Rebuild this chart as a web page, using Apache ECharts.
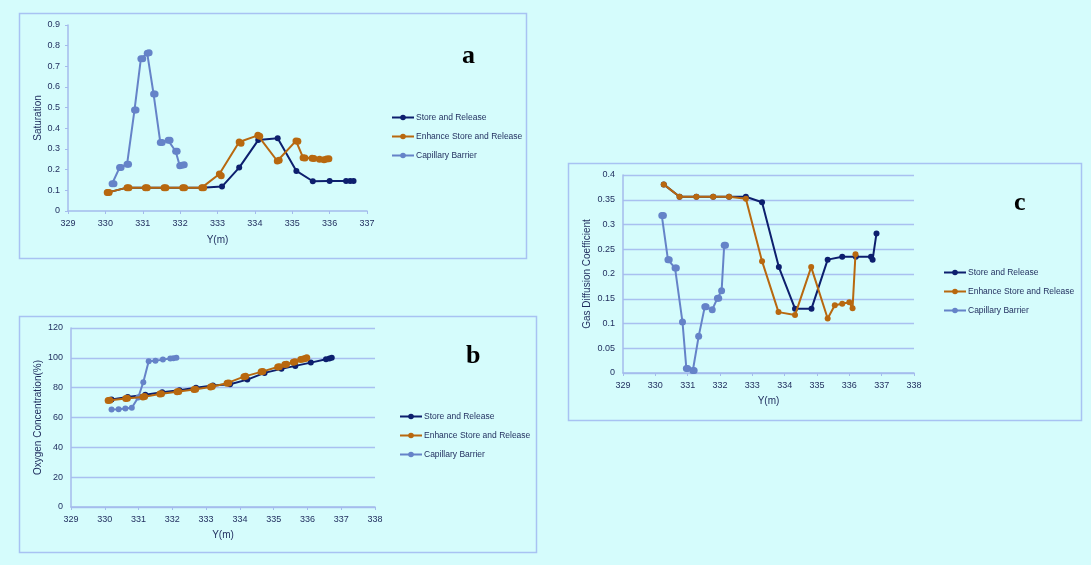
<!DOCTYPE html>
<html>
<head>
<meta charset="utf-8">
<script src="https://cdn.jsdelivr.net/npm/echarts@6/dist/echarts.min.js"></script>
<style>
  html, body { margin: 0; padding: 0; background: #d5fcfc; }
  #chart { width: 1091px; height: 565px; }
</style>
</head>
<body>
<div id="chart"></div>
<script>
// Series names
const seriesNames = ['Store and Release', 'Enhance Store and Release', 'Capillary Barrier'];

// Panel a: Saturation vs Y(m)
const satStore = [[330.05,0.089],[330.58,0.113],[331.07,0.113],[331.57,0.113],[332.07,0.113],[332.58,0.113],
  [333.12,0.118],[333.58,0.21],[334.09,0.343],[334.61,0.352],[335.11,0.194],[335.55,0.144],[336.0,0.145],
  [336.44,0.145],[336.55,0.145],[336.64,0.145]];
const satEnhance = [[330.05,0.089],[330.1,0.089],[330.58,0.113],[330.63,0.113],[331.07,0.113],[331.12,0.113],
  [331.57,0.113],[331.62,0.113],[332.07,0.113],[332.12,0.113],[332.58,0.113],[332.63,0.113],[333.05,0.179],
  [333.1,0.17],[333.58,0.334],[333.63,0.328],[334.08,0.366],[334.13,0.362],[334.6,0.242],[334.65,0.245],
  [335.1,0.339],[335.15,0.338],[335.29,0.258],[335.34,0.256],[335.53,0.255],[335.58,0.254],[335.73,0.25],
  [335.85,0.248],[335.92,0.252],[335.98,0.253]];
const satCapillary = [[330.18,0.132],[330.23,0.132],[330.38,0.21],[330.42,0.21],[330.58,0.226],[330.62,0.226],
  [330.78,0.489],[330.82,0.489],[330.95,0.737],[331.0,0.737],[331.12,0.763],[331.17,0.766],[331.29,0.566],
  [331.33,0.566],[331.47,0.332],[331.52,0.332],[331.68,0.342],[331.73,0.342],[331.88,0.289],[331.92,0.289],
  [331.99,0.219],[332.05,0.221],[332.11,0.224]];

// Panel b: Oxygen concentration (%) vs Y(m)
const oxyStore = [[330.2,72.0],[330.68,73.8],[331.2,75.2],[331.7,77.0],[332.21,78.3],[332.7,79.9],[333.2,81.4],
  [333.71,82.3],[334.22,85.4],[334.73,89.9],[335.23,92.6],[335.64,94.6],[336.1,96.8],[336.55,99.0],
  [336.65,99.6],[336.72,100.0]];
const oxyEnhance = [[330.1,71.4],[330.15,71.6],[330.62,72.7],[330.67,72.9],[331.13,73.8],[331.18,74.0],
  [331.63,75.8],[331.68,76.0],[332.14,77.2],[332.19,77.4],[332.64,78.7],[332.69,78.9],[333.13,80.5],
  [333.18,80.7],[333.62,83.0],[333.67,83.2],[334.12,87.4],[334.17,87.6],[334.63,90.6],[334.68,90.8],
  [335.12,93.9],[335.17,94.1],[335.33,95.5],[335.38,95.7],[335.58,97.0],[335.63,97.3],[335.8,98.8],
  [335.88,99.2],[335.94,99.6],[335.98,100.0]];
const oxyCapillary = [[330.2,65.4],[330.41,65.5],[330.61,66.0],[330.8,66.5],[330.99,73.4],[331.14,83.6],
  [331.3,97.7],[331.5,98.1],[331.72,98.8],[331.94,99.5],[332.03,99.7],[332.12,100.0]];

// Panel c: Gas diffusion coefficient vs Y(m)
const gdcStore = [[330.26,0.381],[330.75,0.356],[331.27,0.356],[331.79,0.356],[332.28,0.356],[332.8,0.356],
  [333.3,0.345],[333.82,0.214],[334.32,0.13],[334.83,0.13],[335.33,0.229],[335.78,0.235],[336.2,0.235],
  [336.67,0.235],[336.72,0.229],[336.84,0.282]];
const gdcEnhance = [[330.26,0.381],[330.75,0.356],[331.27,0.356],[331.79,0.356],[332.28,0.356],[332.8,0.352],
  [333.3,0.226],[333.81,0.123],[334.32,0.117],[334.82,0.214],[335.33,0.11],[335.55,0.137],[335.78,0.14],
  [336.0,0.143],[336.1,0.131],[336.19,0.24]];
const gdcCapillary = [[330.2,0.318],[330.25,0.318],[330.39,0.229],[330.43,0.229],[330.61,0.212],[330.65,0.212],
  [330.84,0.103],[330.96,0.009],[331.0,0.009],[331.16,0.005],[331.2,0.005],[331.34,0.074],[331.53,0.134],
  [331.57,0.134],[331.76,0.128],[331.92,0.151],[331.96,0.151],[332.05,0.166],[332.13,0.258],[332.17,0.258]];

const colors = ['#0d1f6e', '#b8680f', '#6583c8'];
const textColor = '#1e2b5c';
const axisBlue = '#a4bbec';
const font = 'Liberation Sans';

function xAxisFor(gridIndex, max, name, nameGap) {
  return {
    type: 'value', gridIndex: gridIndex, min: 329, max: max, interval: 1,
    name: name, nameLocation: 'middle', nameGap: nameGap,
    nameTextStyle: { color: textColor, fontFamily: font, fontSize: 10 },
    axisLine: { show: true, lineStyle: { color: axisBlue, width: 1.5 } },
    axisTick: { show: true, length: 3, lineStyle: { color: axisBlue } },
    axisLabel: { color: textColor, fontFamily: font, fontSize: 9, margin: 8 },
    splitLine: { show: false }
  };
}
function yAxisFor(gridIndex, max, interval, name, nameGap, grid) {
  return {
    type: 'value', gridIndex: gridIndex, min: 0, max: max, interval: interval,
    name: name, nameLocation: 'middle', nameGap: nameGap,
    nameTextStyle: { color: textColor, fontFamily: font, fontSize: 10 },
    axisLine: { show: true, lineStyle: { color: axisBlue, width: 1.5 } },
    axisTick: { show: !grid, length: 3, lineStyle: { color: axisBlue } },
    axisLabel: { color: textColor, fontFamily: font, fontSize: 9, margin: 8 },
    splitLine: { show: grid, lineStyle: { color: '#a9c0f0', width: 1.3 } }
  };
}
function line(name, data, idx, axisIdx, size) {
  return {
    type: 'line', name: name, data: data, xAxisIndex: axisIdx, yAxisIndex: axisIdx,
    symbol: 'circle', symbolSize: size, showSymbol: true,
    lineStyle: { color: colors[idx], width: 2 },
    itemStyle: { color: colors[idx] },
    emphasis: { disabled: true }, animation: false, z: 2 + (idx === 1 ? 1 : 0)
  };
}
function legendFor(left, top, names) {
  return {
    orient: 'vertical', left: left, top: top, itemGap: 10,
    itemWidth: 22, itemHeight: 7,
    data: names,
    textStyle: { color: textColor, fontFamily: font, fontSize: 8.5, padding: [0, 0, 0, -3] }
  };
}

const chart = echarts.init(document.getElementById('chart'), null, { renderer: 'canvas' });
chart.setOption({
  backgroundColor: '#d5fcfc',
  animation: false,
  grid: [
    { left: 68, top: 25, width: 299, height: 186 },
    { left: 71, top: 328, width: 304, height: 179 },
    { left: 623, top: 175, width: 291, height: 198 }
  ],
  xAxis: [
    xAxisFor(0, 337, 'Y(m)', 24),
    xAxisFor(1, 338, 'Y(m)', 23),
    xAxisFor(2, 338, 'Y(m)', 23)
  ],
  yAxis: [
    yAxisFor(0, 0.9, 0.1, 'Saturation', 23, false),
    yAxisFor(1, 120, 20, 'Oxygen Concentration(%)', 28, true),
    yAxisFor(2, 0.4, 0.05, 'Gas Diffusion Coefficient', 31, true)
  ],
  legend: [
    Object.assign(legendFor(386, 108, seriesNames), { id: 'la' }),
    Object.assign(legendFor(394, 407, seriesNames), { id: 'lb' }),
    Object.assign(legendFor(938, 263, seriesNames), { id: 'lc' })
  ],
  graphic: [
    { type: 'rect', shape: { x: 19.5, y: 13.5, width: 507, height: 245 }, style: { fill: 'none', stroke: '#a8c2f2', lineWidth: 1.5 }, silent: true },
    { type: 'rect', shape: { x: 19.5, y: 316.5, width: 517, height: 236 }, style: { fill: 'none', stroke: '#a8c2f2', lineWidth: 1.5 }, silent: true },
    { type: 'rect', shape: { x: 568.5, y: 163.5, width: 513, height: 257 }, style: { fill: 'none', stroke: '#a8c2f2', lineWidth: 1.5 }, silent: true },
    { type: 'text', left: 462, top: 43, style: { text: 'a', font: 'bold 26px "Liberation Serif"', fill: '#000' } },
    { type: 'text', left: 466, top: 343, style: { text: 'b', font: 'bold 26px "Liberation Serif"', fill: '#000' } },
    { type: 'text', left: 1014, top: 190, style: { text: 'c', font: 'bold 26px "Liberation Serif"', fill: '#000' } }
  ],
  series: [
    line(seriesNames[0], satStore, 0, 0, 6),
    line(seriesNames[1], satEnhance, 1, 0, 7),
    line(seriesNames[2], satCapillary, 2, 0, 7),
    line(seriesNames[0], oxyStore, 0, 1, 6),
    line(seriesNames[1], oxyEnhance, 1, 1, 7),
    line(seriesNames[2], oxyCapillary, 2, 1, 6),
    line(seriesNames[0], gdcStore, 0, 2, 6),
    line(seriesNames[1], gdcEnhance, 1, 2, 6),
    line(seriesNames[2], gdcCapillary, 2, 2, 7)
  ]
});
</script>
</body>
</html>
